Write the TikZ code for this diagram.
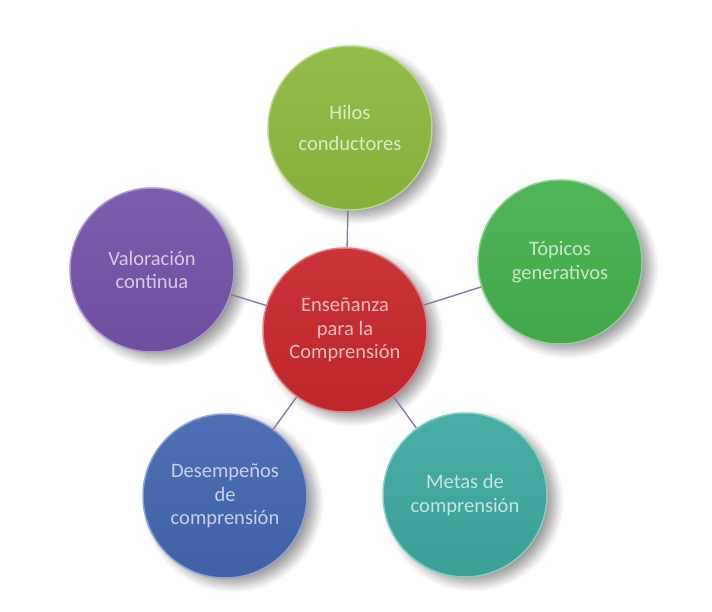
\documentclass[tikz,border=0pt]{standalone}
\usepackage{fontspec}
\setmainfont{Carlito}
\usetikzlibrary{shadows.blur}

\definecolor{hiloscol}{HTML}{8CB93F}
\definecolor{topicoscol}{HTML}{45B04C}
\definecolor{metascol}{HTML}{3DA99F}
\definecolor{desempcol}{HTML}{4267B0}
\definecolor{valorcol}{HTML}{7452A8}
\definecolor{ensencol}{HTML}{C8282B}
\definecolor{linkcol}{HTML}{857BA3}

\begin{document}
\begin{tikzpicture}[x=1pt, y=1pt,
	bubble/.style={circle, minimum size=164pt, inner sep=0pt, align=center,
		top color=#1!94!white, bottom color=#1!95!black,
		draw=#1!60!white, line width=1.5pt, text=#1!30!white,
		font=\fontsize{20.5}{23.5}\selectfont,
		blur shadow={shadow xshift=8pt, shadow yshift=-6pt, shadow blur radius=9pt,
			shadow blur steps=14, shadow opacity=40}},
	link/.style={draw=linkcol, line width=1.4pt}]
	\useasboundingbox (0,0) rectangle (712,611);

	\node[bubble=ensencol] (E) at (345,281) {Enseñanza\\para la\\Comprensión};
	\node[bubble=hiloscol, font=\fontsize{20.5}{31}\selectfont] (H) at (350,483) {Hilos\\conductores};
	\node[bubble=topicoscol] (T) at (560,349) {Tópicos\\generativos};
	\node[bubble=metascol] (M) at (465,116) {Metas de\\comprensión};
	\node[bubble=desempcol] (D) at (225,115) {Desempeños\\de\\comprensión};
	\node[bubble=valorcol] (V) at (152,341) {Valoración\\continua};

	\draw[link] (E) -- (H);
	\draw[link] (E) -- (T);
	\draw[link] (E) -- (M);
	\draw[link] (E) -- (D);
	\draw[link] (E) -- (V);
\end{tikzpicture}
\end{document}
